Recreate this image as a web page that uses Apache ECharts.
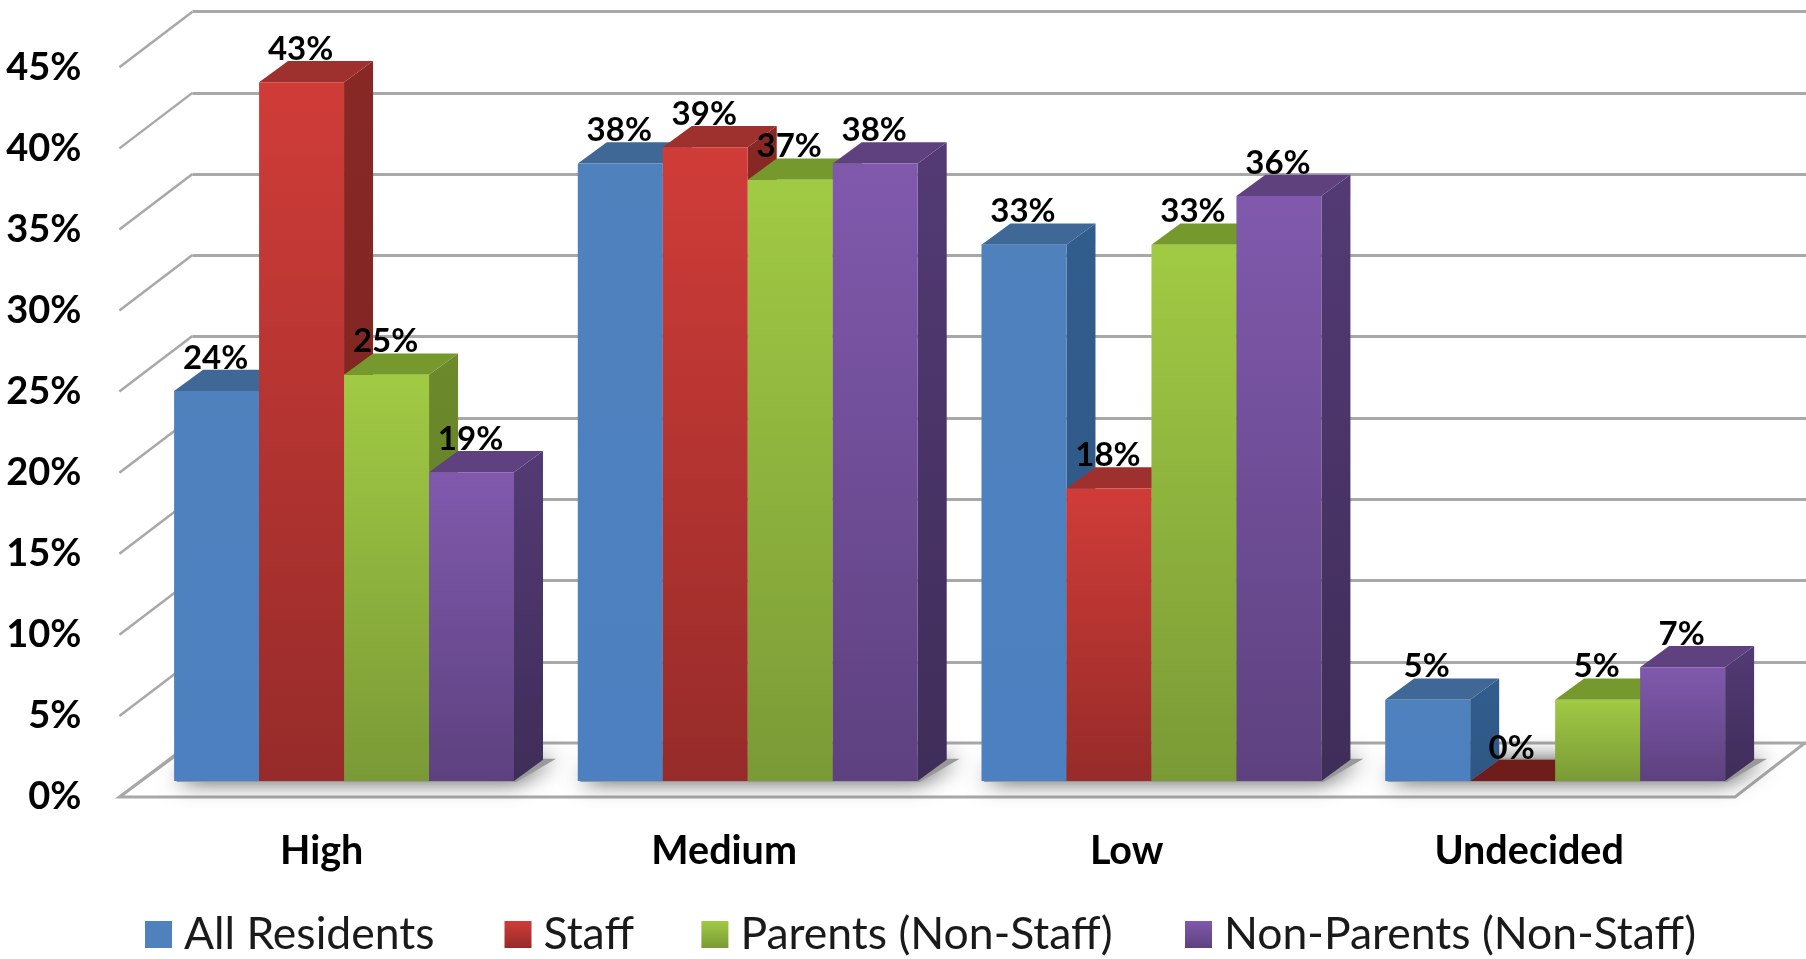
<!DOCTYPE html>
<html><head><meta charset="utf-8">
<style>html,body{margin:0;padding:0;background:#fff}#c{width:1806px;height:959px}</style>
<script src="https://cdn.jsdelivr.net/npm/echarts@6/dist/echarts.min.js"></script>
</head><body><div id="c"></div>
<script>
const categories = ['High', 'Medium', 'Low', 'Undecided'];
const seriesNames = ['All Residents', 'Staff', 'Parents (Non-Staff)', 'Non-Parents (Non-Staff)'];
const allResidents = [24, 38, 33, 5];
const staff = [43, 39, 18, 0];
const parents = [25, 37, 33, 5];
const nonParents = [19, 38, 36, 7];
const yTicks = [0, 5, 10, 15, 20, 25, 30, 35, 40, 45];

const FONT = 'Lato';
const DX = 29, DY = 21.3;
const grad = (a, b) => ({type:'linear', x:0, y:0, x2:0, y2:1, colorStops:[{offset:0,color:a},{offset:1,color:b}]});
const looks = [
  {front:grad('#4f81bd','#4c80c0'), top:'#3f6896', side:grad('#315d8c','#2e5785'), zero:'#3f6896', legend:'#4f81bd'},
  {front:grad('#d03c38','#962b29'), top:'#9e302d', side:grad('#872825','#7c2422'), zero:'#6e1d1b', legend:grad('#d03c38','#962b29')},
  {front:grad('#a1ca44','#7a9a36'), top:'#76992e', side:grad('#6c8a2b','#5f7a26'), zero:'#76992e', legend:grad('#a1ca44','#7a9a36')},
  {front:grad('#8059ad','#5d417f'), top:'#5f4180', side:grad('#533a74','#3f2d59'), zero:'#5f4180', legend:grad('#8059ad','#5d417f')}
];
const values = [allResidents, staff, parents, nonParents];

function floorItem(params, api) {
  const cs = params.coordSys;
  const y0 = cs.y + cs.height;
  return {type:'polygon', shape:{points:[[cs.x-1,y0],[1735,y0],[1805,y0-54],[192.5,y0-54]]},
    style:{fill:'#fff', stroke:'#a8a8a8', lineWidth:3}};
}
function diagItem(params, api) {
  const p = api.coord([0, api.value(0)]);
  const x0 = params.coordSys.x - 1;
  return {type:'line', shape:{x1:x0, y1:p[1], x2:x0+73, y2:p[1]-55.5},
    style:{stroke:'#a8a8a8', lineWidth:2.5}};
}
function shadowItem(params, api) {
  const c = api.coord([api.value(0), 0]);
  const band = api.size([1, 0])[0], w = band*0.2105*4;
  const x0 = c[0]-w/2, x1 = c[0]+w/2, y = c[1];
  return {type:'polygon', shape:{points:[[x0+2,y+1],[x1+2,y+1],[x1+DX+13,y-DY-1],[x0+DX-3,y-DY-1]]},
    style:{fill:'#999', shadowBlur:22, shadowColor:'#555'}};
}
function barItem(s) {
  return function(params, api) {
    const c = api.coord([api.value(0), 0]);
    const t = api.coord([api.value(0), api.value(1)]);
    const band = api.size([1, 0])[0], w = band*0.2105;
    const x0 = c[0] + (s-2)*w, x1 = x0 + w, yb = c[1], yt = t[1];
    const L = looks[s], v = api.value(1), kids = [];
    if (v > 0) kids.push({type:'polygon', shape:{points:[[x1,yb],[x1+DX,yb-DY],[x1+DX,yt-DY],[x1,yt]]}, style:{fill:L.side}});
    kids.push({type:'polygon', shape:{points:[[x0,yt],[x1,yt],[x1+DX,yt-DY],[x0+DX,yt-DY]]}, style:{fill:v>0?L.top:L.zero}});
    if (v > 0) kids.push({type:'rect', shape:{x:x0,y:yt,width:w,height:yb-yt}, style:{fill:L.front}});
    kids.push({type:'text', x:x0+w/2-1, y:yt-33, z2:100,
      style:{text:v+'%', fontFamily:FONT, fontWeight:'bold', fontSize:33, fill:'#000', align:'center', verticalAlign:'middle'}});
    return {type:'group', children:kids};
  };
}

const chart = echarts.init(document.getElementById('c'), null, {renderer:'canvas'});
const legendSpots = [145, 504.5, 701.4, 1185];
chart.setOption({
  animation:false,
  backgroundColor:'#fff',
  grid:[
    {left:120.4, top:67.3, width:1610, height:729.7},
    {left:192.5, top:11.5, width:1613.5, height:731.7},
    {left:142.2, top:49.75, width:1614.8, height:731.25}
  ],
  xAxis:[
    {gridIndex:0, type:'category', data:categories, axisLine:{show:false}, axisTick:{show:false},
     axisLabel:{margin:34, fontFamily:FONT, fontWeight:'bold', fontSize:39.5, color:'#000'}},
    {gridIndex:1, type:'category', data:categories, show:false},
    {gridIndex:2, type:'category', data:categories, show:false}
  ],
  yAxis:[
    {gridIndex:0, type:'value', min:0, max:45, interval:5, axisLine:{show:false}, axisTick:{show:false}, splitLine:{show:false},
     axisLabel:{margin:39, formatter:'{value}%', fontFamily:FONT, fontWeight:'bold', fontSize:38, color:'#000', padding:[7,0,0,0]}},
    {gridIndex:1, type:'value', min:0, max:45, interval:5, axisLine:{show:false}, axisTick:{show:false}, axisLabel:{show:false},
     splitLine:{show:true, lineStyle:{color:'#a8a8a8', width:3}}},
    {gridIndex:2, type:'value', min:0, max:45, interval:5, show:false, splitLine:{show:false}}
  ],
  legend: seriesNames.map((n, i) => ({
    data:[n], left:legendSpots[i], top:912, icon:'rect', itemWidth:27, itemHeight:27, selectedMode:false, padding:0,
    textStyle:{fontFamily:FONT, fontSize:44.5, color:'#1a1a1a', padding:[4,0,0,7]}
  })),
  series:[
    {type:'custom', xAxisIndex:0, yAxisIndex:0, silent:true, data:[[0]], renderItem:floorItem},
    {type:'custom', xAxisIndex:0, yAxisIndex:0, silent:true, data:yTicks.map(v=>[v]), encode:{y:0}, renderItem:diagItem},
    {type:'custom', xAxisIndex:2, yAxisIndex:2, silent:true, data:categories.map((c,i)=>[i,0]), encode:{x:0,y:1}, renderItem:shadowItem},
    ...seriesNames.map((n, s) => ({
      type:'custom', name:n, xAxisIndex:2, yAxisIndex:2, silent:true,
      itemStyle:{color:looks[s].legend},
      data:values[s].map((v,i)=>[i,v]), encode:{x:0,y:1}, renderItem:barItem(s)
    }))
  ]
});
</script></body></html>
